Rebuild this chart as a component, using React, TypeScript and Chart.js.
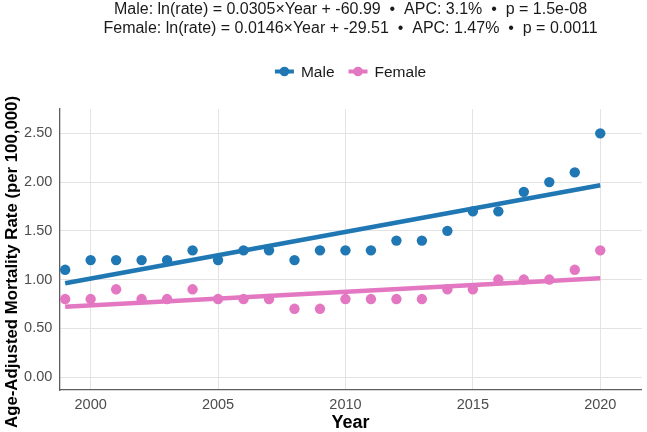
import React, { useEffect, useRef } from "react";
import { Chart, registerables } from "chart.js";

Chart.register(...registerables);

const years = [1999, 2000, 2001, 2002, 2003, 2004, 2005, 2006, 2007, 2008, 2009, 2010, 2011, 2012, 2013, 2014, 2015, 2016, 2017, 2018, 2019, 2020];
const maleRates = [1.1, 1.2, 1.2, 1.2, 1.2, 1.3, 1.2, 1.3, 1.3, 1.2, 1.3, 1.3, 1.3, 1.4, 1.4, 1.5, 1.7, 1.7, 1.9, 2.0, 2.1, 2.5];
const femaleRates = [0.8, 0.8, 0.9, 0.8, 0.8, 0.9, 0.8, 0.8, 0.8, 0.7, 0.7, 0.8, 0.8, 0.8, 0.8, 0.9, 0.9, 1.0, 1.0, 1.0, 1.1, 1.3];
const fitYears = [1999, 2020];
const maleFit = [0.962, 1.968];
const femaleFit = [0.722, 1.013];
const xTicks = [2000, 2005, 2010, 2015, 2020];
const yTicks = [0, 0.5, 1.0, 1.5, 2.0, 2.5];
const seriesNames = ["Male", "Female"];
const seriesColors = ["#1f77b4", "#e377c2"];
const titleLines = [
  "Male: ln(rate) = 0.0305×Year + -60.99  •  APC: 3.1%  •  p = 1.5e-08",
  "Female: ln(rate) = 0.0146×Year + -29.51  •  APC: 1.47%  •  p = 0.0011",
];
const xTitle = "Year";
const yTitle = "Age-Adjusted Mortality Rate (per 100,000)";

const FONT = "'Liberation Sans', Arial, Helvetica, sans-serif";

const overlayPlugin = {
  id: "overlay",
  afterDraw(chart: any) {
    const ctx = chart.ctx;
    const area = chart.chartArea;
    const cx = (area.left + area.right) / 2;
    ctx.save();
    // Title
    ctx.fillStyle = "#1a1a1a";
    ctx.font = `16px ${FONT}`;
    ctx.textAlign = "center";
    ctx.textBaseline = "alphabetic";
    ctx.fillText(titleLines[0], cx, 14);
    ctx.fillText(titleLines[1], cx, 32.5);

    // Legend
    ctx.font = `15.5px ${FONT}`;
    const keyW = 19;
    const gapKeyText = 7;
    const gapItems = 14;
    const widths = seriesNames.map((n) => ctx.measureText(n).width);
    let total = 0;
    widths.forEach((w, i) => {
      total += keyW + gapKeyText + w + (i < widths.length - 1 ? gapItems : 0);
    });
    let x = cx - total / 2;
    const ly = 71.5;
    seriesNames.forEach((name, i) => {
      ctx.strokeStyle = seriesColors[i];
      ctx.fillStyle = seriesColors[i];
      ctx.lineWidth = 4;
      ctx.beginPath();
      ctx.moveTo(x, ly);
      ctx.lineTo(x + keyW, ly);
      ctx.stroke();
      ctx.beginPath();
      ctx.arc(x + keyW / 2, ly, 4.8, 0, Math.PI * 2);
      ctx.fill();
      ctx.fillStyle = "#1a1a1a";
      ctx.textAlign = "left";
      ctx.textBaseline = "middle";
      ctx.fillText(name, x + keyW + gapKeyText, ly + 1);
      x += keyW + gapKeyText + widths[i] + gapItems;
    });

    // Axis titles
    ctx.fillStyle = "#000000";
    ctx.font = `bold 18px ${FONT}`;
    ctx.textAlign = "center";
    ctx.textBaseline = "middle";
    ctx.fillText(xTitle, cx, 423);

    ctx.font = `bold 16.8px ${FONT}`;
    ctx.translate(12, 262);
    ctx.rotate(-Math.PI / 2);
    ctx.fillText(yTitle, 0, 0);
    ctx.restore();
  },
};

export default function App() {
  const canvasRef = useRef<HTMLCanvasElement | null>(null);

  useEffect(() => {
    document.body.style.margin = "0";
    const canvas = canvasRef.current;
    if (!canvas) return;

    const chart = new Chart(canvas, {
      type: "scatter",
      data: {
        datasets: [
          {
            type: "line",
            label: seriesNames[0] + " fit",
            data: fitYears.map((y, i) => ({ x: y, y: maleFit[i] })),
            borderColor: seriesColors[0],
            borderWidth: 4.5,
            pointRadius: 0,
            fill: false,
            order: 2,
          },
          {
            type: "line",
            label: seriesNames[1] + " fit",
            data: fitYears.map((y, i) => ({ x: y, y: femaleFit[i] })),
            borderColor: seriesColors[1],
            borderWidth: 4.5,
            pointRadius: 0,
            fill: false,
            order: 2,
          },
          {
            label: seriesNames[0],
            data: years.map((y, i) => ({ x: y, y: maleRates[i] })),
            backgroundColor: seriesColors[0],
            borderWidth: 0,
            pointRadius: 5.2,
            order: 1,
          },
          {
            label: seriesNames[1],
            data: years.map((y, i) => ({ x: y, y: femaleRates[i] })),
            backgroundColor: seriesColors[1],
            borderWidth: 0,
            pointRadius: 5.2,
            order: 1,
          },
        ],
      },
      options: {
        responsive: false,
        animation: false,
        layout: { padding: { top: 109, right: 3, left: 0, bottom: 0 } },
        plugins: {
          legend: { display: false },
          title: { display: false },
          tooltip: { enabled: false },
        },
        scales: {
          x: {
            type: "linear",
            min: 1998.77,
            max: 2021.63,
            afterBuildTicks: (scale: any) => {
              scale.ticks = xTicks.map((v) => ({ value: v }));
            },
            afterFit: (scale: any) => {
              scale.height = 42;
            },
            ticks: {
              padding: 6,
              color: "#4d4d4d",
              font: { family: FONT, size: 14.5 },
              callback: (v: any) => String(v),
            },
            grid: { color: "#e3e3e3", lineWidth: 1, drawTicks: false },
            border: { display: true, color: "#5e5e5e", width: 1.3 },
          },
          y: {
            type: "linear",
            min: -0.133,
            max: 2.75,
            afterBuildTicks: (scale: any) => {
              scale.ticks = yTicks.map((v) => ({ value: v }));
            },
            afterFit: (scale: any) => {
              scale.width = 59.3;
            },
            ticks: {
              padding: 7,
              color: "#4d4d4d",
              font: { family: FONT, size: 14.5 },
              callback: (v: any) => Number(v).toFixed(2),
            },
            grid: { color: "#e3e3e3", lineWidth: 1, drawTicks: false },
            border: { display: true, color: "#5e5e5e", width: 1.3 },
          },
        },
      },
      plugins: [overlayPlugin],
    } as any);

    return () => {
      chart.destroy();
    };
  }, []);

  return (
    <div style={{ position: "fixed", left: 0, top: 0, width: 647, height: 432 }}>
      <canvas ref={canvasRef} width={647} height={432} style={{ display: "block" }} />
    </div>
  );
}
